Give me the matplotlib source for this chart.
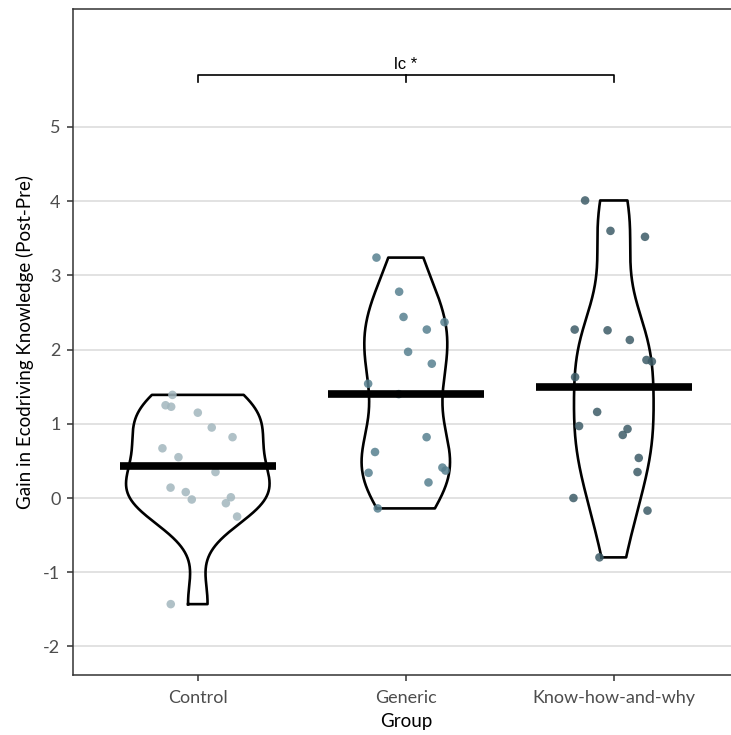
import matplotlib
matplotlib.use("Agg")
import matplotlib.pyplot as plt
import numpy as np

plt.rcParams['font.family'] = ['Lato', 'DejaVu Sans']
plt.rcParams['axes.unicode_minus'] = False

groups = ["Control", "Generic", "Know-how-and-why"]

# gain scores (jittered points), with their x jitter
control = [1.39, 1.25, 1.23, 1.15, 0.95, 0.82, 0.67, 0.55, 0.35, 0.14, 0.08,
           -0.02, 0.01, -0.07, -0.25, -1.43]
control_dx = [-0.122, -0.155, -0.128, 0.0, 0.067, 0.167, -0.17, -0.093, 0.085,
              -0.131, -0.058, -0.029, 0.159, 0.135, 0.189, -0.13]

generic = [3.24, 2.78, 2.44, 2.27, 2.37, 1.97, 1.81, 1.54, 1.40, 0.82, 0.62,
           0.34, 0.41, 0.37, 0.21, -0.14]
generic_dx = [-0.141, -0.032, -0.011, 0.101, 0.186, 0.011, 0.125, -0.181,
              -0.034, 0.1, -0.148, -0.179, 0.176, 0.191, 0.109, -0.135]

knowhow = [4.01, 3.60, 3.52, 2.27, 2.26, 2.13, 1.86, 1.84, 1.63, 1.16, 0.97,
           0.93, 0.85, 0.54, 0.35, 0.00, -0.17, -0.80]
knowhow_dx = [-0.138, -0.016, 0.150, -0.188, -0.03, 0.077, 0.157, 0.183,
              -0.186, -0.080, -0.167, 0.066, 0.043, 0.120, 0.114, -0.194,
              0.162, -0.069]

point_colors = ["#a3b7be", "#57808f", "#3d5c67"]
sig_label = "lc *"


def nrd0(x):
    x = np.asarray(x)
    iqr = np.subtract(*np.percentile(x, [75, 25]))
    lo = min(np.std(x, ddof=1), iqr / 1.34)
    return 0.9 * lo * len(x) ** -0.2


def kde(x, grid):
    x = np.asarray(x)
    bw = nrd0(x)
    z = (grid[:, None] - x[None, :]) / bw
    return np.exp(-0.5 * z ** 2).sum(axis=1) / (len(x) * bw * np.sqrt(2 * np.pi))


data = [control, generic, knowhow]
offsets = [control_dx, generic_dx, knowhow_dx]

fig = plt.figure(figsize=(7.31, 7.35), dpi=100)
# discrete axis 0.4..3.6, one group every 208 px; right edge is cut off
ax = fig.add_axes([73 / 731, 60 / 735, 665.6 / 731, 666 / 735])

# densities first, so all violins share one scale (area)
grids, dens = [], []
for vals in data:
    g = np.linspace(min(vals), max(vals), 512)
    grids.append(g)
    dens.append(kde(vals, g))
scale = 0.345 / max(d.max() for d in dens)

for i, vals in enumerate(data):
    xc = i + 1
    g, d = grids[i], dens[i] * scale
    xs = np.concatenate([xc - d, (xc + d)[::-1], [xc - d[0]]])
    ys = np.concatenate([g, g[::-1], [g[0]]])
    ax.plot(xs, ys, color="black", lw=1.9, zorder=3, solid_joinstyle="round")
    ax.scatter(xc + np.array(offsets[i]), vals, s=38, color=point_colors[i],
               alpha=0.85, edgecolors="none", zorder=4)
    ax.plot([xc - 0.375, xc + 0.375], [np.mean(vals)] * 2, color="black",
            lw=5.5, solid_capstyle="butt", zorder=5)

# significance bracket
yb = 5.70
ax.plot([1, 1, 3, 3], [yb - 0.09, yb, yb, yb - 0.09], color="black", lw=1.2,
        zorder=5)
ax.plot([2, 2], [yb, yb - 0.09], color="black", lw=1.2, zorder=5)
ax.text(2, yb + 0.04, sig_label, ha="center", va="bottom", fontsize=12,
        family=["Liberation Sans", "DejaVu Sans"])

ax.set_xlim(0.4, 3.6)
ax.set_ylim(-2.385, 6.59)
ax.set_xticks([1, 2, 3])
ax.set_xticklabels(groups)
ax.set_yticks(range(-2, 6))
ax.grid(axis="y", color="#dadada", lw=1.1)
ax.set_axisbelow(True)
for s in ["left", "bottom", "top"]:
    ax.spines[s].set_color("#333333")
    ax.spines[s].set_linewidth(1.1)
ax.spines["right"].set_visible(False)
ax.tick_params(colors="#333333", labelcolor="#4d4d4d", labelsize=13,
               length=4, width=1.1)
ax.tick_params(axis="x", pad=7)
ax.tick_params(axis="y", pad=5)
ax.set_xlabel("Group", fontsize=13.5, labelpad=5)
ax.set_ylabel("Gain in Ecodriving Knowledge (Post-Pre)", fontsize=13.5,
              labelpad=7)

fig.savefig("out.png", dpi=100)
